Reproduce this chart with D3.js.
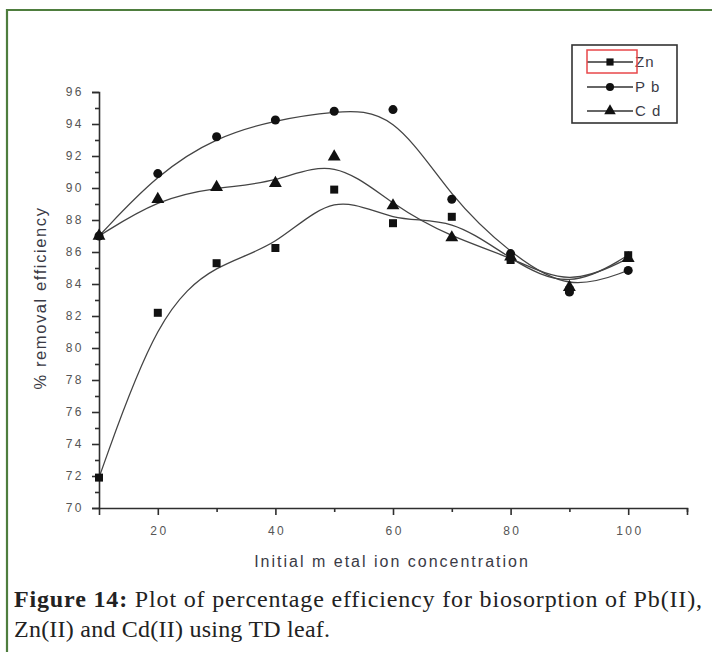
<!DOCTYPE html>
<html>
<head>
<meta charset="utf-8">
<script src="https://cdn.jsdelivr.net/npm/d3@7"></script>
<style>
  html, body { margin: 0; padding: 0; background: #fff; }
  svg { display: block; }
</style>
</head>
<body>
<script>
// ---- data ----
const concentrations = [10, 20, 30, 40, 50, 60, 70, 80, 90, 100];
const znValues = [71.9, 82.2, 85.3, 86.25, 89.9, 87.8, 88.2, 85.5, 83.6, 85.8];
const pbValues = [87.0, 90.9, 93.2, 94.25, 94.8, 94.9, 89.3, 85.9, 83.5, 84.85];
const cdValues = [87.0, 89.3, 90.05, 90.3, 91.95, 88.9, 86.9, 85.7, 83.8, 85.6];
const seriesNames = ["Zn", "Pb", "Cd"];
const legendLabels = ["Zn", "P b", "C d"];
const xMajorTicks = [20, 40, 60, 80, 100];
const xMinorTicks = [30, 50, 70, 90, 110];
const yMajorTicks = [70, 72, 74, 76, 78, 80, 82, 84, 86, 88, 90, 92, 94, 96];
const yMinorTicks = [71, 73, 75, 77, 79, 81, 83, 85, 87, 89, 91, 93, 95];
const xTitle = "Initial m etal ion concentration";
const yTitle = "% removal efficiency";
const captionBold = "Figure 14:";
const captionRest = " Plot of percentage efficiency for biosorption of Pb(II),";
const captionLine2 = "Zn(II) and Cd(II) using TD leaf.";

const W = 712, H = 652;
const svg = d3.select("body").append("svg").attr("width", W).attr("height", H);

// frame
svg.append("path")
  .attr("d", "M7,652 L7,10 L712,10")
  .attr("fill", "none").attr("stroke", "#4e7d3e").attr("stroke-width", 2.2);

const x = d3.scaleLinear().domain([10, 110]).range([99, 687]);
const y = d3.scaleLinear().domain([70, 96]).range([508, 92]);

const axisColor = "#2e2e2e";
const tickFont = "Arial, 'Liberation Sans', sans-serif";

// y axis
const yAxisMajor = d3.axisLeft(y).tickValues(yMajorTicks).tickSize(7).tickPadding(8).tickFormat(d3.format("d"));
const gy = svg.append("g").attr("transform", `translate(${x(10)},0)`).call(yAxisMajor);
const gyMinor = svg.append("g").attr("transform", `translate(${x(10)},0)`)
  .call(d3.axisLeft(y).tickValues(yMinorTicks).tickSize(4).tickFormat(""));
gyMinor.select(".domain").remove();

// x axis
const xAxisMajor = d3.axisBottom(x).tickValues(xMajorTicks).tickSize(7).tickPadding(11).tickFormat(d3.format("d"));
const gx = svg.append("g").attr("transform", `translate(0,${y(70)})`).call(xAxisMajor);
const gxMinor = svg.append("g").attr("transform", `translate(0,${y(70)})`)
  .call(d3.axisBottom(x).tickValues(xMinorTicks).tickSize(4).tickFormat(""));
gxMinor.select(".domain").remove();

[gy, gx, gyMinor, gxMinor].forEach(g => {
  g.selectAll("path.domain").attr("stroke", axisColor).attr("stroke-width", 1.6);
  g.selectAll(".tick line").attr("stroke", axisColor).attr("stroke-width", 1.6);
  g.selectAll(".tick text")
    .attr("fill", "#555").attr("font-family", tickFont).attr("font-size", 12)
    .style("letter-spacing", "2.5px");
});
gx.selectAll(".tick text").attr("dx", "1.2px");

// axis titles
svg.append("text")
  .attr("x", 392).attr("y", 567).attr("text-anchor", "middle")
  .attr("font-family", tickFont).attr("font-size", 16).attr("fill", "#3a3a45")
  .style("letter-spacing", "2px")
  .text(xTitle);
svg.append("text")
  .attr("transform", "translate(46,298) rotate(-90)")
  .attr("text-anchor", "middle")
  .attr("font-family", tickFont).attr("font-size", 16.5).attr("fill", "#3a3a45")
  .style("letter-spacing", "1.6px")
  .text(yTitle);

// curves
const series = [
  { name: seriesNames[0], values: znValues, symbol: d3.symbolSquare, size: 64 },
  { name: seriesNames[1], values: pbValues, symbol: d3.symbolCircle, size: 64 },
  { name: seriesNames[2], values: cdValues, symbol: d3.symbolTriangle, size: 72 }
];

const line = d3.line()
  .x((d, i) => x(concentrations[i]))
  .y(d => y(d))
  .curve(d3.curveBasis);

series.forEach(s => {
  svg.append("path")
    .attr("d", line(s.values))
    .attr("fill", "none").attr("stroke", "#444").attr("stroke-width", 1.3);
});
series.forEach(s => {
  svg.append("g").selectAll("path")
    .data(s.values)
    .join("path")
    .attr("transform", (d, i) => `translate(${x(concentrations[i])},${y(d)})`)
    .attr("d", d3.symbol().type(s.symbol).size(s.size))
    .attr("fill", "#111");
});

// legend
const lg = svg.append("g");
lg.append("rect").attr("x", 572).attr("y", 45).attr("width", 105).attr("height", 78)
  .attr("fill", "#fff").attr("stroke", "#333").attr("stroke-width", 1.6);
const rowY = [62, 87, 111];
series.forEach((s, i) => {
  lg.append("line").attr("x1", 587).attr("x2", 633).attr("y1", rowY[i]).attr("y2", rowY[i])
    .attr("stroke", "#333").attr("stroke-width", 1.3);
  lg.append("path").attr("transform", `translate(610,${rowY[i]})`)
    .attr("d", d3.symbol().type(s.symbol).size(s.size * 0.8)).attr("fill", "#111");
  lg.append("text").attr("x", 635).attr("y", rowY[i] + 5)
    .attr("font-family", tickFont).attr("font-size", 15).attr("fill", "#3a3a45")
    .style("letter-spacing", "1px")
    .text(legendLabels[i]);
});
lg.append("rect").attr("x", 587).attr("y", 50).attr("width", 50).attr("height", 23)
  .attr("fill", "none").attr("stroke", "#e8474a").attr("stroke-width", 1.5);

// caption
const serif = "'Liberation Serif', 'Times New Roman', serif";
const cap1 = svg.append("text").attr("x", 14).attr("y", 607)
  .attr("font-family", serif).attr("font-size", 24).attr("fill", "#222")
  .attr("textLength", 688).attr("lengthAdjust", "spacing");
cap1.append("tspan").attr("font-weight", "bold").text(captionBold);
cap1.append("tspan").text(captionRest);
svg.append("text").attr("x", 14).attr("y", 637)
  .attr("font-family", serif).attr("font-size", 24).attr("fill", "#222")
  .attr("textLength", 316).attr("lengthAdjust", "spacing")
  .text(captionLine2);
</script>
</body>
</html>
